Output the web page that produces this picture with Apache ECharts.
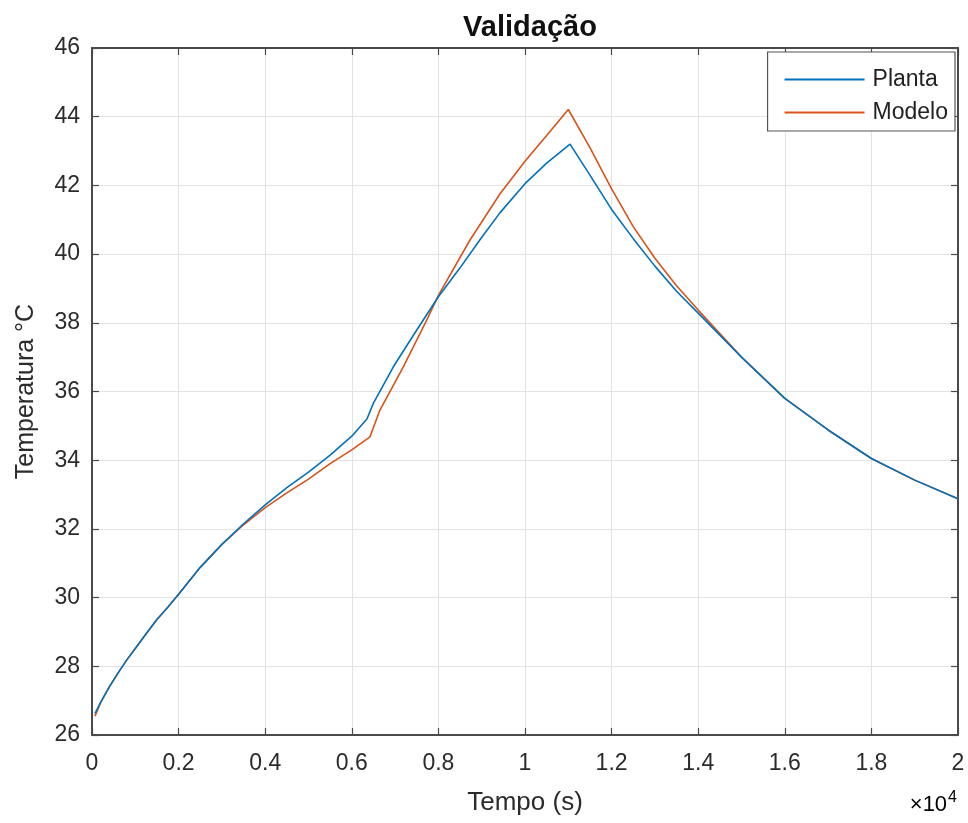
<!DOCTYPE html>
<html>
<head>
<meta charset="utf-8">
<script src="https://cdn.jsdelivr.net/npm/echarts@6/dist/echarts.min.js"></script>
<style>
  html, body { margin: 0; padding: 0; background: #fff; }
  #chart { width: 968px; height: 823px; }
</style>
</head>
<body>
<div id="chart"></div>
<script>
// Time in seconds, temperature in °C
const plantaTime = [70, 200, 400, 600, 800, 1000, 1250, 1490, 1750, 2000, 2500, 3000, 3500, 4000, 4500, 5000, 5500, 6000, 6350, 6500, 6960, 7500, 8000, 8500, 8960, 9420, 10000, 10500, 11040, 11500, 12000, 12500, 13000, 13500, 14000, 15000, 16000, 17000, 18000, 19000, 20000];
const plantaTemp = [26.63, 26.95, 27.4, 27.8, 28.18, 28.52, 28.95, 29.35, 29.72, 30.1, 30.88, 31.55, 32.15, 32.7, 33.2, 33.65, 34.15, 34.7, 35.2, 35.66, 36.72, 37.79, 38.76, 39.6, 40.42, 41.2, 42.05, 42.65, 43.2, 42.3, 41.3, 40.45, 39.65, 38.92, 38.28, 37.0, 35.8, 34.88, 34.05, 33.42, 32.88];

const modeloTime = [70, 200, 400, 600, 800, 1000, 1250, 1490, 1750, 2000, 2500, 3000, 3500, 4000, 4500, 5000, 5500, 6000, 6420, 6650, 7190, 7730, 8000, 8730, 9420, 10000, 10500, 11000, 11500, 12000, 12500, 13000, 13500, 14000, 15000, 16000, 17000, 18000, 19000, 20000];
const modeloTemp = [26.55, 26.95, 27.4, 27.8, 28.18, 28.52, 28.95, 29.35, 29.72, 30.1, 30.88, 31.55, 32.12, 32.62, 33.05, 33.45, 33.9, 34.3, 34.68, 35.46, 36.72, 38.08, 38.8, 40.41, 41.75, 42.7, 43.45, 44.21, 43.1, 41.9, 40.8, 39.88, 39.08, 38.37, 37.0, 35.8, 34.88, 34.05, 33.42, 32.88];

const xTicks = { min: 0, max: 20000, step: 2000 };
const yTicks = { min: 26, max: 46, step: 2 };

const zip = (xs, ys) => xs.map((x, i) => [x, ys[i]]);

const axisColor = '#4a4a4a';
const labelColor = '#2b2b2b';
const font = 'Liberation Sans, Arial, sans-serif';

const chart = echarts.init(document.getElementById('chart'), null, { renderer: 'canvas' });

chart.setOption({
  animation: false,
  backgroundColor: '#ffffff',
  title: {
    text: 'Validação',
    left: 525, top: 8, textAlign: 'center',
    textStyle: { fontFamily: font, fontSize: 29, fontWeight: 'bold', color: '#111' }
  },
  grid: { left: 92, right: 10, top: 48, bottom: 88 },
  legend: {
    orient: 'vertical',
    right: 13, top: 52,
    icon: 'rect',
    itemWidth: 80, itemHeight: 2, itemGap: 8,
    padding: [15, 7, 6, 17],
    backgroundColor: '#fff',
    borderColor: '#555', borderWidth: 1.2, borderRadius: 0,
    textStyle: { fontFamily: font, fontSize: 23, color: '#222', padding: [0, 0, 0, 3], lineHeight: 25 },
    data: ['Planta', 'Modelo']
  },
  xAxis: [{
    type: 'value', min: xTicks.min, max: xTicks.max, interval: xTicks.step,
    name: 'Tempo (s)', nameLocation: 'middle', nameGap: 55,
    nameTextStyle: { fontFamily: font, fontSize: 26, color: labelColor },
    axisLine: { onZero: false, lineStyle: { color: axisColor, width: 2 } },
    axisTick: { inside: true, length: 7, lineStyle: { color: axisColor, width: 1.2 } },
    axisLabel: { fontFamily: font, fontSize: 23, color: labelColor, margin: 17,
      formatter: v => String(+(v / 10000).toFixed(1)) },
    splitLine: { show: true, lineStyle: { color: '#e3e3e3', width: 1 } }
  }, {
    type: 'value', position: 'top', min: xTicks.min, max: xTicks.max, interval: xTicks.step,
    axisLine: { onZero: false, lineStyle: { color: axisColor, width: 2 } },
    axisTick: { inside: true, length: 7, lineStyle: { color: axisColor, width: 1.2 } },
    axisLabel: { show: false }, splitLine: { show: false }
  }],
  yAxis: [{
    type: 'value', min: yTicks.min, max: yTicks.max, interval: yTicks.step,
    name: 'Temperatura °C', nameLocation: 'middle', nameGap: 53,
    nameTextStyle: { fontFamily: font, fontSize: 25, color: labelColor },
    axisLine: { onZero: false, lineStyle: { color: axisColor, width: 2 } },
    axisTick: { inside: true, length: 7, lineStyle: { color: axisColor, width: 1.2 } },
    axisLabel: { fontFamily: font, fontSize: 23, color: labelColor, margin: 12 },
    splitLine: { show: true, lineStyle: { color: '#e3e3e3', width: 1 } }
  }, {
    type: 'value', position: 'right', min: yTicks.min, max: yTicks.max, interval: yTicks.step,
    axisLine: { onZero: false, lineStyle: { color: axisColor, width: 2 } },
    axisTick: { inside: true, length: 7, lineStyle: { color: axisColor, width: 1.2 } },
    axisLabel: { show: false }, splitLine: { show: false }
  }],
  graphic: [{
    type: 'text', right: 11, top: 790,
    style: {
      text: '{a|×10}{b|4}',
      rich: {
        a: { fontFamily: font, fontSize: 22, color: '#333', verticalAlign: 'bottom', lineHeight: 26 },
        b: { fontFamily: font, fontSize: 16, color: '#333', verticalAlign: 'top', lineHeight: 16, padding: [0, 0, 12, 1] }
      }
    }
  }],
  series: [{
    name: 'Planta', type: 'line', data: zip(plantaTime, plantaTemp),
    symbol: 'none', showSymbol: false, smooth: false,
    lineStyle: { color: '#0072BD', width: 1.6 }, itemStyle: { color: '#0072BD' }, z: 3
  }, {
    name: 'Modelo', type: 'line', data: zip(modeloTime, modeloTemp),
    symbol: 'none', showSymbol: false, smooth: false,
    lineStyle: { color: '#D95319', width: 1.6 }, itemStyle: { color: '#D95319' }, z: 2
  }]
});
</script>
</body>
</html>
